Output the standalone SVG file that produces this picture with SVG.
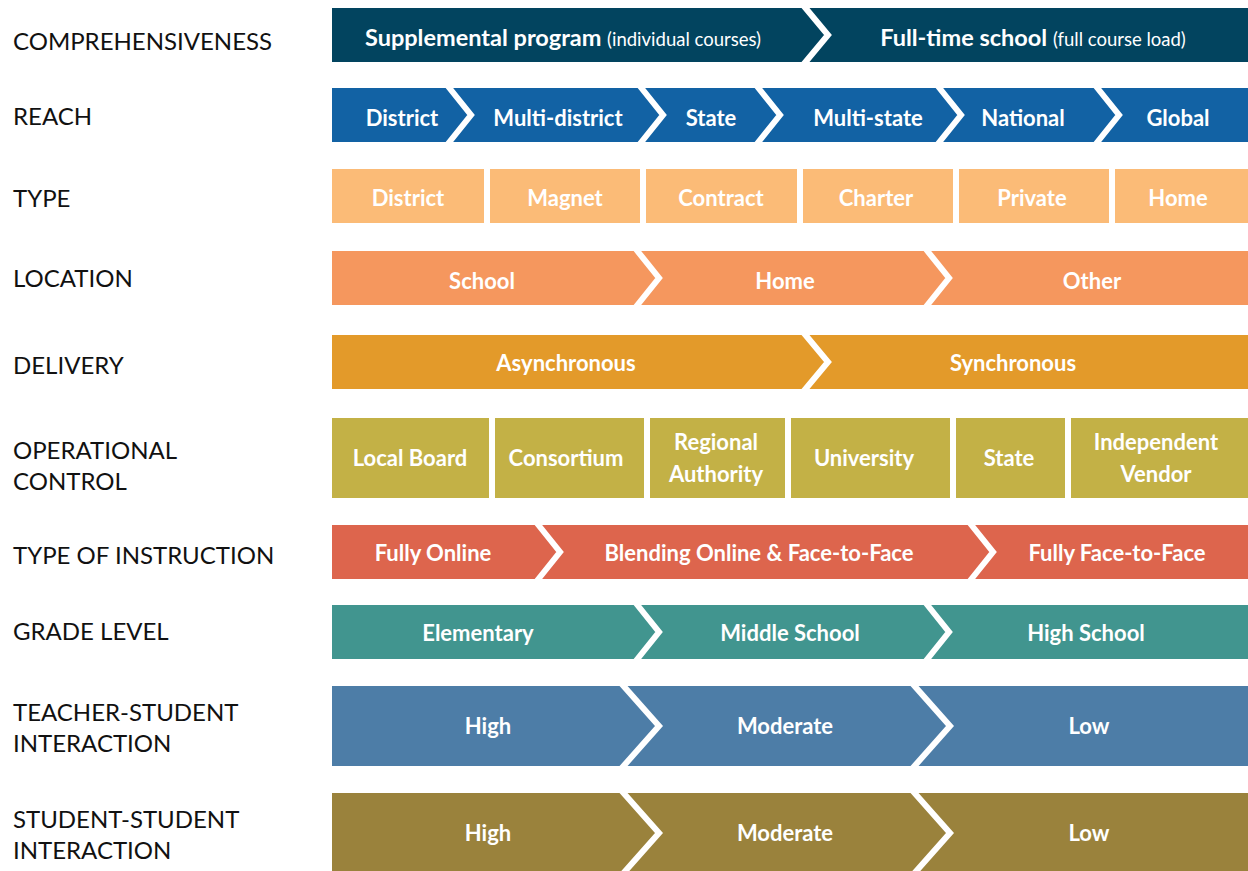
<svg xmlns="http://www.w3.org/2000/svg" width="1248" height="871" viewBox="0 0 1248 871">
<style>
.lbl{font-family:Lato,"Liberation Sans",sans-serif;font-size:24px;fill:#111}
.t{font-family:Lato,"Liberation Sans",sans-serif;font-size:22px;font-weight:bold;fill:#fff;text-anchor:middle}
.b{font-size:23.5px}
.s{font-weight:normal;font-size:18.5px}
.sep{fill:none;stroke:#fff;stroke-width:6;stroke-linejoin:miter}
</style>
<rect width="1248" height="871" fill="#fff"/>

<g id="row-comprehensiveness">
<text class="lbl" x="13" y="50">COMPREHENSIVENESS</text>
<rect x="332" y="8" width="916" height="54" fill="#02445F"/>
<polyline class="sep" points="803,5 828,35 803,65"/>
<text class="t b" x="563" y="46">Supplemental program <tspan class="s">(individual courses)</tspan></text>
<text class="t b" x="1033" y="46">Full-time school <tspan class="s">(full course load)</tspan></text>
</g>

<g id="row-reach">
<text class="lbl" x="13" y="125">REACH</text>
<rect x="332" y="88" width="916" height="54" fill="#1262A4"/>
<polyline class="sep" points="447,85 471,115 447,145"/>
<polyline class="sep" points="639,85 663,115 639,145"/>
<polyline class="sep" points="756,85 780,115 756,145"/>
<polyline class="sep" points="937,85 961,115 937,145"/>
<polyline class="sep" points="1095,85 1119,115 1095,145"/>
<text class="t" x="402" y="126">District</text>
<text class="t" x="558" y="126">Multi-district</text>
<text class="t" x="711" y="126">State</text>
<text class="t" x="868" y="126">Multi-state</text>
<text class="t" x="1023" y="126">National</text>
<text class="t" x="1178" y="126">Global</text>
</g>

<g id="row-type" fill="#FBBB77">
<text class="lbl" x="13" y="207">TYPE</text>
<rect x="332" y="169" width="152" height="54"/>
<rect x="490" y="169" width="150" height="54"/>
<rect x="646" y="169" width="151" height="54"/>
<rect x="803" y="169" width="150" height="54"/>
<rect x="959" y="169" width="150" height="54"/>
<rect x="1115" y="169" width="133" height="54"/>
<text class="t" x="408" y="206">District</text>
<text class="t" x="565" y="206">Magnet</text>
<text class="t" x="721" y="206">Contract</text>
<text class="t" x="876" y="206">Charter</text>
<text class="t" x="1032" y="206">Private</text>
<text class="t" x="1178" y="206">Home</text>
</g>

<g id="row-location">
<text class="lbl" x="13" y="287">LOCATION</text>
<rect x="332" y="251" width="916" height="54" fill="#F5975E"/>
<polyline class="sep" points="635,248 659,278 635,308"/>
<polyline class="sep" points="925,248 949,278 925,308"/>
<text class="t" x="482" y="289">School</text>
<text class="t" x="785" y="289">Home</text>
<text class="t" x="1092" y="289">Other</text>
</g>

<g id="row-delivery">
<text class="lbl" x="13" y="374">DELIVERY</text>
<rect x="332" y="335" width="916" height="54" fill="#E39A2A"/>
<polyline class="sep" points="803,332 828,362 803,392"/>
<text class="t" x="566" y="371">Asynchronous</text>
<text class="t" x="1013" y="371">Synchronous</text>
</g>

<g id="row-operational-control" fill="#C3B146">
<text class="lbl" x="13" y="459">OPERATIONAL</text>
<text class="lbl" x="13" y="490">CONTROL</text>
<rect x="332" y="418" width="157" height="80"/>
<rect x="495" y="418" width="149" height="80"/>
<rect x="650" y="418" width="135" height="80"/>
<rect x="791" y="418" width="159" height="80"/>
<rect x="956" y="418" width="109" height="80"/>
<rect x="1071" y="418" width="177" height="80"/>
<text class="t" x="410" y="466">Local Board</text>
<text class="t" x="566" y="466">Consortium</text>
<text class="t" x="716" y="450">Regional</text>
<text class="t" x="716" y="482">Authority</text>
<text class="t" x="864" y="466">University</text>
<text class="t" x="1009" y="466">State</text>
<text class="t" x="1156" y="450">Independent</text>
<text class="t" x="1156" y="482">Vendor</text>
</g>

<g id="row-type-of-instruction">
<text class="lbl" x="13" y="564">TYPE OF INSTRUCTION</text>
<rect x="332" y="525" width="916" height="54" fill="#DD654D"/>
<polyline class="sep" points="536,522 560,552 536,582"/>
<polyline class="sep" points="969,522 993,552 969,582"/>
<text class="t" x="433" y="561">Fully Online</text>
<text class="t" x="759" y="561">Blending Online &amp; Face-to-Face</text>
<text class="t" x="1117" y="561">Fully Face-to-Face</text>
</g>

<g id="row-grade-level">
<text class="lbl" x="13" y="640">GRADE LEVEL</text>
<rect x="332" y="605" width="916" height="54" fill="#41958F"/>
<polyline class="sep" points="635,602 659,632 635,662"/>
<polyline class="sep" points="925,602 949,632 925,662"/>
<text class="t" x="478" y="641">Elementary</text>
<text class="t" x="790" y="641">Middle School</text>
<text class="t" x="1086" y="641">High School</text>
</g>

<g id="row-teacher-student">
<text class="lbl" x="13" y="721">TEACHER-STUDENT</text>
<text class="lbl" x="13" y="752">INTERACTION</text>
<rect x="332" y="686" width="916" height="80" fill="#4D7DA7"/>
<polyline class="sep" points="620,682 659,726 620,770"/>
<polyline class="sep" points="911,682 950,726 911,770"/>
<text class="t" x="488" y="734">High</text>
<text class="t" x="785" y="734">Moderate</text>
<text class="t" x="1089" y="734">Low</text>
</g>

<g id="row-student-student">
<text class="lbl" x="13" y="828">STUDENT-STUDENT</text>
<text class="lbl" x="13" y="859">INTERACTION</text>
<rect x="332" y="793" width="916" height="78" fill="#9A823C"/>
<polyline class="sep" points="620,789 659,833 620,877"/>
<polyline class="sep" points="911,789 950,833 911,877"/>
<text class="t" x="488" y="841">High</text>
<text class="t" x="785" y="841">Moderate</text>
<text class="t" x="1089" y="841">Low</text>
</g>
</svg>
